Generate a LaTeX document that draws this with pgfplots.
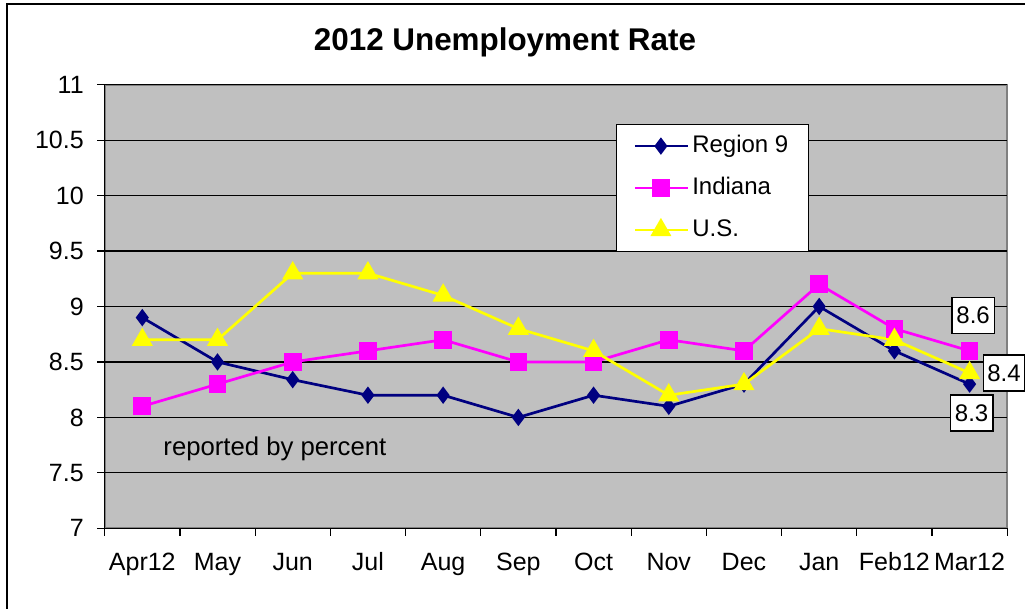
\documentclass[border=0pt]{standalone}
\usepackage{pgfplots}
\pgfplotsset{compat=1.18}
\usepackage{fontspec}
\setmainfont{Liberation Sans}
\definecolor{navy}{RGB}{0,0,128}
\definecolor{pink}{RGB}{255,0,255}
\definecolor{yel}{RGB}{255,255,0}
\definecolor{bg}{RGB}{192,192,192}
\definecolor{frame}{RGB}{128,128,128}

\begin{document}
\begin{tikzpicture}
\useasboundingbox (0,0) rectangle (1025bp,609bp);
\draw[line width=2bp] (7bp,-5bp) -- (7bp,605bp) -- (1030bp,605bp);
\begin{axis}[
    at={(104.7bp,80.7bp)}, anchor=south west,
    width=902.5bp, height=443.6bp, scale only axis,
    xmin=-0.5, xmax=11.5, ymin=7, ymax=11,
    clip=false,
    axis background/.style={fill=bg, draw=frame, line width=2bp},
    axis x line*=bottom, axis y line*=left,
    axis line style={black, line width=1.5bp},
    xtick={-0.5,0.5,...,11.5},
    x tick label as interval,
    xticklabels={Apr12,May,Jun,Jul,Aug,Sep,Oct,Nov,Dec,Jan,Feb12,Mar12},
    ytick={7,7.5,...,11},
    tick align=outside, major tick length=7.5bp,
    tick style={black, line width=1.2bp},
    ymajorgrids, grid style={black, line width=1.2bp},
    /pgf/number format/assume math mode=true,
    ticklabel style={font=\fontsize{25bp}{30bp}\selectfont},
    xticklabel style={yshift=-13bp, text height=18bp, text depth=5bp},
    yticklabel style={xshift=-10bp},
    title={2012 Unemployment Rate},
    title style={at={(0.4435,1)}, anchor=base, yshift=28bp,
        font=\fontsize{31.4bp}{36bp}\selectfont\bfseries},
    legend style={at={(0.5665,0.9114)}, anchor=north west,
        draw=black, line width=1.2bp, fill=white,
        inner xsep=17bp, inner ysep=8bp, row sep=15bp,
        nodes={inner sep=3bp, text height=17bp, text depth=4bp},
        font=\fontsize{24bp}{29bp}\selectfont},
    legend cell align=left,
    legend image code/.code={\draw[mark repeat=2, mark phase=2, #1]
        plot coordinates {(0bp,0bp) (26bp,0bp) (53bp,0bp)};},
]
\addplot[navy, line width=2.7bp, mark=diamond*, mark size=6.5bp] coordinates {
    (0,8.9) (1,8.5) (2,8.34) (3,8.2) (4,8.2) (5,8.0)
    (6,8.2) (7,8.1) (8,8.3) (9,9.0) (10,8.6) (11,8.3)};
\addlegendentry{Region 9}
\addplot[pink, line width=2.7bp, mark=square*, mark size=7.5bp] coordinates {
    (0,8.1) (1,8.3) (2,8.5) (3,8.6) (4,8.7) (5,8.5)
    (6,8.5) (7,8.7) (8,8.6) (9,9.2) (10,8.8) (11,8.6)};
\addlegendentry{Indiana}
\addplot[yel, line width=2.7bp, mark=triangle*, mark size=9.5bp] coordinates {
    (0,8.7) (1,8.7) (2,9.3) (3,9.3) (4,9.1) (5,8.8)
    (6,8.6) (7,8.2) (8,8.3) (9,8.8) (10,8.7) (11,8.4)};
\addlegendentry{U.S.}

\node[font=\fontsize{25.7bp}{30bp}\selectfont, anchor=base west, inner sep=0pt]
    at (axis cs:0.279,7.652) {reported by percent};
\tikzset{lbl/.style={draw=black, fill=white, line width=1.5bp,
    font=\fontsize{24bp}{29bp}\selectfont, inner xsep=4.5bp,
    minimum height=36bp}}
\node[lbl, xshift=3.5bp, yshift=35.3bp] at (axis cs:11,8.6) {8.6};
\node[lbl, anchor=west, xshift=13bp, inner xsep=4bp] at (axis cs:11,8.4) {8.4};
\node[lbl, xshift=2bp, yshift=-29bp] at (axis cs:11,8.3) {8.3};
\end{axis}
\end{tikzpicture}
\end{document}
